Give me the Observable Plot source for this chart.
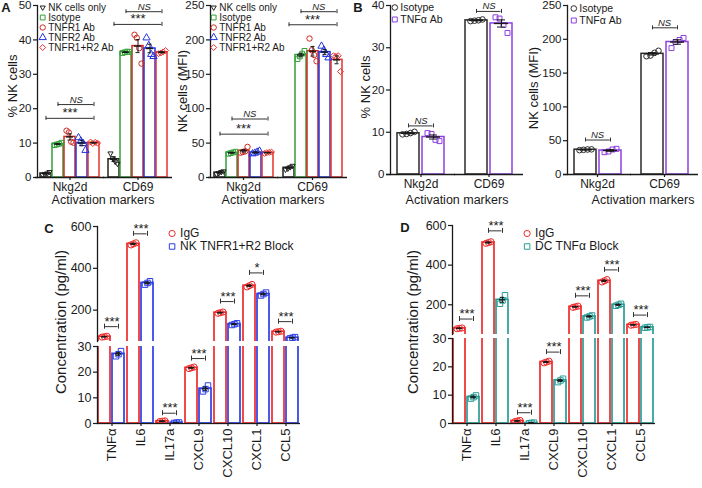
<!DOCTYPE html>
<html><head><meta charset="utf-8">
<script src="https://cdn.jsdelivr.net/npm/d3@7"></script>
<script src="https://cdn.jsdelivr.net/npm/@observablehq/plot@0.6"></script>
<style>
body{margin:0;background:#fff;}
#root{position:relative;width:702px;height:488px;overflow:hidden;font-family:"Liberation Sans",Arial,Helvetica,sans-serif;color:#1a1a1a;}
#root svg{position:absolute;}
</style></head><body><div id="root"></div>
<script>
// ---------------- DATA ----------------
const markers = ["Nkg2d", "CD69"];
const groupsA = ["NK cells only", "Isotype", "TNFR1 Ab", "TNFR2 Ab", "TNFR1+R2 Ab"];
const colorsA = ["#222222", "#34a03a", "#cf2a22", "#2433dd", "#e8302c"];
// replicate values [group][replicate]
const pctA_Nkg2d = [[0.8,1.0,1.2,1.6],[9.4,9.6,9.8,10.1],[13.6,13.1,10.4,10.1],[11.6,10.6,9.9,7.9],[10.3,9.9,10.2,10.0]];
const pctA_CD69  = [[7.0,5.6,4.6,4.0],[36.2,36.4,36.6,36.5],[41.5,40.6,37.6,33.1],[40.6,38.4,35.8,35.2],[36.0,36.2,36.5,36.9]];
const mfiA_Nkg2d = [[5,6.5,8,9],[34.5,35.5,36.5,37.5],[36,37,38,44.5],[34.5,35.5,37,38.5],[35,36,36.5,37]];
const mfiA_CD69  = [[11.5,13,15,17],[172,176,180,184],[202,185,178,169],[191,185,179,174],[177,176,177,154]];
const sigA_marker = ["Nkg2d", "Nkg2d", "CD69", "CD69"];
const sigA_from = ["Isotype", "NK cells only", "Isotype", "NK cells only"];
const sigA_to = ["TNFR1+R2 Ab", "TNFR1+R2 Ab", "TNFR1+R2 Ab", "TNFR1+R2 Ab"];
const sigA_label = ["NS", "***", "NS", "***"];
const sigA_pct_y = [21.2, 17.2, 48.2, 44.5];
const sigA_mfi_y = [85, 63, 241, 222];

const groupsB = ["Isotype", "TNFα Ab"];
const colorsB = ["#2a2a2a", "#8e3fe0"];
const pctB_Nkg2d = [[9.5,9.6,9.8,10.1],[9.8,9.6,8.2,7.9]];
const pctB_CD69  = [[36.3,36.4,36.5,36.7],[37.2,36.9,35.4,33.5]];
const mfiB_Nkg2d = [[36,36.5,37,37.2],[33,34,37,38]];
const mfiB_CD69  = [[175,176,180,183],[187,196,199,202]];
const sigB_marker = ["Nkg2d", "CD69"];
const sigB_label = ["NS", "NS"];
const sigB_pct_y = [11.5, 38.6];
const sigB_mfi_y = [51, 217];

const cytokines = ["TNFα", "IL6", "IL17a", "CXCL9", "CXCL10", "CXCL1", "CCL5"];
const groupsC = ["IgG", "NK TNFR1+R2 Block"];
const colorsC = ["#ee2b2b", "#2c3ee6"];
const igG_C   = [[71,73,75],[512,517,522],[0.8,0.9,1.0],[21.4,21.7,22.0],[185,188,191],[311,317,323],[95,97,99]];
const block_C = [[26.2,27.0,28.2],[322,330,338],[0.2,0.3,0.4],[12.5,13.4,14.8],[129,133,137],[270,277,284],[65,68,71]];
const sigC_y = [121, 565, 4, 25.3, 241, 378, 145];
const sigC_label = ["***", "***", "***", "***", "***", "*", "***"];

const groupsD = ["IgG", "DC TNFα Block"];
const colorsD = ["#ee2b2b", "#2a9d96"];
const igG_D   = [[79,81,83],[510,514,518],[0.7,0.9,1.1],[21.4,21.7,22.0],[187,190,193],[315,321,327],[97,99,101]];
const block_D = [[8.8,9.3,9.9],[205,222,248],[0.1,0.2,0.3],[14.6,15.2,15.8],[136,141,146],[195,200,205],[84,86,88]];
const sigD_y = [128, 573, 3.8, 25.2, 245, 376, 148];
const sigD_label = ["***", "***", "***", "***", "***", "***", "***"];

// ---------------- HELPERS ----------------
const FONT = '"Liberation Sans", Arial, Helvetica, sans-serif';
const INK = "#1a1a1a";
const root = document.getElementById("root");
const triDown = {draw(ctx, size) { const r = Math.sqrt(size) * 0.62; ctx.moveTo(0, r); ctx.lineTo(-r * 0.866, -r * 0.5); ctx.lineTo(r * 0.866, -r * 0.5); ctx.closePath(); }};
const symbolsA = [triDown, "square", "circle", "triangle", "diamond2"];
const symbolsB = ["circle", "square"];
const symbolsC = ["circle", "square"];

function summarize(groups, keys, arrays) {
  const pts = [], sum = [];
  keys.forEach((m, mi) => arrays[mi].forEach((vals, gi) => {
    vals.forEach((v, r) => pts.push({m, g: groups[gi], v, r}));
    const mean = d3.mean(vals);
    const sem = d3.deviation(vals) / Math.sqrt(vals.length);
    sum.push({m, g: groups[gi], mean, lo: mean - sem, hi: mean + sem});
  }));
  return {pts, sum};
}
function sigRows(ms, froms, tos, ys, labels) {
  return ys.map((y, i) => ({m: ms[i], from: froms[i], to: tos[i], y, label: labels[i]}));
}
function place(svg, left, top) { svg.style.left = left + "px"; svg.style.top = top + "px"; root.appendChild(svg); }
function txt(s, x, y, {size = 13, rot = false, bold = false} = {}) {
  const el = document.createElement("div");
  el.textContent = s;
  el.style.cssText = `position:absolute;left:${x}px;top:${y}px;font-size:${size}px;white-space:nowrap;line-height:1;` +
    `transform:translate(-50%,-50%)${rot ? " rotate(-90deg)" : ""};font-weight:${bold ? "bold" : "normal"}`;
  root.appendChild(el);
}
const baseStyle = (fs) => ({background: "transparent", overflow: "visible", fontFamily: FONT, fontSize: fs + "px", color: INK});

function barPanel(o) {
  const {left, top, width, height, mL, mR, mT, mB, fxDomain, groups, colors, symbols, yDomain, yTicks, data, sig = [],
    fxPadIn = 0, fxPadOut = 0, xPadIn = 0.1, xPadOut = 0.1, jitter, r = 2.7, barStroke = 1.5, fxAxis = true, rotate = 0,
    baseline = true, tickFont = 11.5, fxFont = 12, capPx = 2, baseExt = 0, meanInset = 2.5, capInset = 3, starFont = 13} = o;
  const frameW = width - mL - mR, frameH = height - mT - mB;
  const fxStep = frameW / (fxDomain.length - fxPadIn + 2 * fxPadOut);
  const fxBand = fxStep * (1 - fxPadIn);
  const xStep = fxBand / (groups.length - xPadIn + 2 * xPadOut);
  const halfBand = xStep * (1 - xPadIn) / 2;
  const cap = capPx * (yDomain[1] - yDomain[0]) / frameH;
  const sigIn = sig.filter(d => d.y >= yDomain[0] && d.y <= yDomain[1]);
  const gi = g => groups.indexOf(g);
  const marks = [
    Plot.barY(data.sum, {fx: "m", x: "g", y: "mean", fill: "white", stroke: "g", strokeWidth: barStroke, clip: true}),
    ...jitter.map((dx, k) => Plot.dot(data.pts.filter(d => d.r === k),
      {fx: "m", x: "g", y: "v", stroke: "g", symbol: "g", r, fill: "none", strokeWidth: 1, dx, clip: true})),
    Plot.ruleX(data.sum, {fx: "m", x: "g", y1: "lo", y2: "hi", stroke: INK, strokeWidth: 1, clip: true}),
    Plot.tickY(data.sum, {fx: "m", x: "g", y: "mean", stroke: INK, strokeWidth: 1.4, inset: meanInset, clip: true}),
    Plot.tickY(data.sum, {fx: "m", x: "g", y: "lo", stroke: INK, strokeWidth: 1, inset: capInset, clip: true}),
    Plot.tickY(data.sum, {fx: "m", x: "g", y: "hi", stroke: INK, strokeWidth: 1, inset: capInset, clip: true}),
    Plot.axisY({ticks: yTicks, tickSize: 4, tickPadding: 2, label: null, fontSize: tickFont, strokeWidth: 1.2}),
    Plot.frame({anchor: "left", facetAnchor: "left", stroke: INK, strokeWidth: 1.3})
  ];
  if (baseline) marks.push(Plot.ruleY([yDomain[0]], {stroke: INK, strokeWidth: 1.3, insetLeft: -baseExt, insetRight: -baseExt}));
  if (fxAxis) marks.push(Plot.axisFx({anchor: "bottom", tickSize: 3, tickPadding: 2, label: null, fontSize: fxFont, tickRotate: rotate, strokeWidth: 1.2}));
  if (sigIn.length) {
    marks.push(Plot.ruleY(sigIn, {fx: "m", y: "y", x1: "from", x2: "to", stroke: "#333", strokeWidth: 1, insetLeft: halfBand, insetRight: halfBand}));
    marks.push(Plot.ruleX(sigIn, {fx: "m", x: "from", y1: d => d.y - cap, y2: d => d.y + cap, stroke: "#333", strokeWidth: 1}));
    marks.push(Plot.ruleX(sigIn, {fx: "m", x: "to", y1: d => d.y - cap, y2: d => d.y + cap, stroke: "#333", strokeWidth: 1}));
    sigIn.forEach(d => {
      const mid = (gi(d.from) + gi(d.to)) / 2;
      const ns = d.label === "NS";
      marks.push(Plot.text([d], {fx: "m", y: "y", text: "label", dx: (mid - (groups.length - 1) / 2) * xStep,
        dy: ns ? -2 : -1, lineAnchor: "bottom", fontSize: ns ? 9.5 : starFont, fontStyle: ns ? "italic" : "normal", fill: "#222"}));
    });
  }
  const svg = Plot.plot({
    width, height, marginLeft: mL, marginRight: mR, marginTop: mT, marginBottom: mB,
    fx: Object.assign({domain: fxDomain, paddingInner: fxPadIn, paddingOuter: fxPadOut}, fxAxis ? {} : {axis: null}),
    x: {domain: groups, paddingInner: xPadIn, paddingOuter: xPadOut, axis: null},
    y: {domain: yDomain, label: null},
    color: {domain: groups, range: colors},
    symbol: {domain: groups, range: symbols},
    style: baseStyle(tickFont),
    marks
  });
  place(svg, left, top);
}

function legendPlot({left, top, groups, colors, symbols, r, rowH, fontSize, textDx, width}) {
  const svg = Plot.plot({
    width, height: rowH * groups.length, marginTop: 0, marginBottom: 0, marginRight: 0, marginLeft: r + 1.5,
    y: {type: "point", domain: groups, padding: 0.5, axis: null},
    color: {domain: groups, range: colors},
    symbol: {domain: groups, range: symbols},
    style: baseStyle(fontSize),
    marks: [
      Plot.dot(groups, {y: d => d, frameAnchor: "left", stroke: d => d, symbol: d => d, r, fill: "none", strokeWidth: 1}),
      Plot.text(groups, {y: d => d, frameAnchor: "left", text: d => d, dx: textDx, textAnchor: "start", fontSize, fill: INK})
    ]
  });
  place(svg, left - (r + 1.5), top);
}

// ---------------- PANEL A ----------------
const pctA = summarize(groupsA, markers, [pctA_Nkg2d, pctA_CD69]);
const mfiA = summarize(groupsA, markers, [mfiA_Nkg2d, mfiA_CD69]);
const jitA = [-3.5, -1.2, 1.2, 3.5];
const geomA = {height: 200, mT: 5, mB: 23, fxDomain: markers, groups: groupsA, colors: colorsA, symbols: symbolsA,
  fxPadIn: 0.045, fxPadOut: 0, xPadIn: 0.1, xPadOut: 0.15, jitter: jitA, r: 2.7, baseExt: 2, capInset: 3.5, meanInset: 2};
barPanel({...geomA, left: 0, top: 0, width: 172, mL: 37, mR: 2, yDomain: [0, 50], yTicks: [0,10,20,30,40,50], data: pctA,
  sig: sigRows(sigA_marker, sigA_from, sigA_to, sigA_pct_y, sigA_label)});
barPanel({...geomA, left: 170, top: 0, width: 177, mL: 40, mR: 2, yDomain: [0, 250], yTicks: [0,50,100,150,200,250], data: mfiA,
  sig: sigRows(sigA_marker, sigA_from, sigA_to, sigA_mfi_y, sigA_label)});
legendPlot({left: 42, top: 1.7, groups: groupsA, colors: colorsA, symbols: symbolsA, r: 2.7, rowH: 10, fontSize: 10, textDx: 5.5, width: 110});
legendPlot({left: 213, top: 1.7, groups: groupsA, colors: colorsA, symbols: symbolsA, r: 2.7, rowH: 10, fontSize: 10, textDx: 5.5, width: 110});

// ---------------- PANEL B ----------------
const pctB = summarize(groupsB, markers, [pctB_Nkg2d, pctB_CD69]);
const mfiB = summarize(groupsB, markers, [mfiB_Nkg2d, mfiB_CD69]);
const fromB = groupsB.map(() => groupsB[0]), toB = groupsB.map(() => groupsB[1]);
const geomB = {height: 200, mT: 5, mB: 26, fxDomain: markers, groups: groupsB, colors: colorsB, symbols: symbolsB,
  fxPadIn: 0.1, fxPadOut: 0, xPadIn: 0.12, xPadOut: 0.25, jitter: [-6, -2, 2, 6], r: 2.8, capInset: 7, meanInset: 4, baseExt: 4};
barPanel({...geomB, left: 350, top: 0, width: 172, mL: 39, mR: 2, yDomain: [0, 40], yTicks: [0,10,20,30,40], data: pctB,
  sig: sigRows(sigB_marker, fromB, toB, sigB_pct_y, sigB_label)});
barPanel({...geomB, left: 527, top: 0, width: 170, mL: 40, mR: 2, yDomain: [0, 250], yTicks: [0,50,100,150,200,250], data: mfiB,
  sig: sigRows(sigB_marker, fromB, toB, sigB_mfi_y, sigB_label)});
legendPlot({left: 394, top: 0.5, groups: groupsB, colors: colorsB, symbols: symbolsB, r: 2.8, rowH: 12, fontSize: 10.5, textDx: 5.5, width: 80});
legendPlot({left: 573, top: 0.5, groups: groupsB, colors: colorsB, symbols: symbolsB, r: 2.8, rowH: 12.5, fontSize: 10.5, textDx: 5.5, width: 80});

// ---------------- PANELS C & D (broken axis) ----------------
function brokenPanel({left, width, mL, upperTop, upperH, lowerTop, lowerH, groups, colors, igg, block, sigY, sigLabel}) {
  const data = summarize(groups, cytokines, cytokines.map((c, i) => [igg[i], block[i]]));
  const sig = sigRows(cytokines, cytokines.map(() => groups[0]), cytokines.map(() => groups[1]), sigY, sigLabel);
  const common = {left, width, mL, mR: 5, fxDomain: cytokines, groups, colors, symbols: symbolsC, data, sig,
    fxPadIn: 0, fxPadOut: 0, xPadIn: 0.12, xPadOut: 0.05, jitter: [-2.5, 0, 2.5], r: 3.1, barStroke: 1.7,
    tickFont: 12.5, fxFont: 13, capPx: 2.5, capInset: 4, meanInset: 3, starFont: 13};
  barPanel({...common, top: upperTop, height: upperH, mT: 6, mB: 0, yDomain: [50, 600], yTicks: [200, 400, 600], fxAxis: false, baseline: false});
  barPanel({...common, top: lowerTop, height: lowerH, mT: 5, mB: 45, yDomain: [0, 30], yTicks: [0, 10, 20, 30], rotate: -90});
}
brokenPanel({left: 40, width: 265, mL: 57, upperTop: 220, upperH: 121, lowerTop: 341, lowerH: 127,
  groups: groupsC, colors: colorsC, igg: igG_C, block: block_C, sigY: sigC_y, sigLabel: sigC_label});
brokenPanel({left: 395, width: 266, mL: 55, upperTop: 219, upperH: 115, lowerTop: 333, lowerH: 135,
  groups: groupsD, colors: colorsD, igg: igG_D, block: block_D, sigY: sigD_y, sigLabel: sigD_label});
legendPlot({left: 172, top: 225.5, groups: groupsC, colors: colorsC, symbols: symbolsC, r: 3.1, rowH: 13, fontSize: 12, textDx: 8, width: 140});
legendPlot({left: 527, top: 225.5, groups: groupsD, colors: colorsD, symbols: symbolsC, r: 3.1, rowH: 13, fontSize: 12, textDx: 8, width: 140});

// ---------------- TITLES ----------------
txt("% NK cells", 12, 86, {rot: true, size: 13});
txt("NK cells (MFI)", 182, 91, {rot: true, size: 13});
txt("% NK cells", 365, 87, {rot: true, size: 13});
txt("NK cells (MFI)", 533, 88, {rot: true, size: 13});
txt("Concentration (pg/ml)", 60, 322, {rot: true, size: 15});
txt("Concentration (pg/ml)", 412, 322, {rot: true, size: 15});
txt("Activation markers", 103, 200, {size: 12.5});
txt("Activation markers", 273, 200, {size: 12.5});
txt("Activation markers", 457, 200, {size: 12.5});
txt("Activation markers", 643, 200, {size: 12.5});
txt("A", 6, 7, {bold: true, size: 13});
txt("B", 358, 7, {bold: true, size: 13});
txt("C", 49, 228, {bold: true, size: 13});
txt("D", 405, 227, {bold: true, size: 13});
</script></body></html>
